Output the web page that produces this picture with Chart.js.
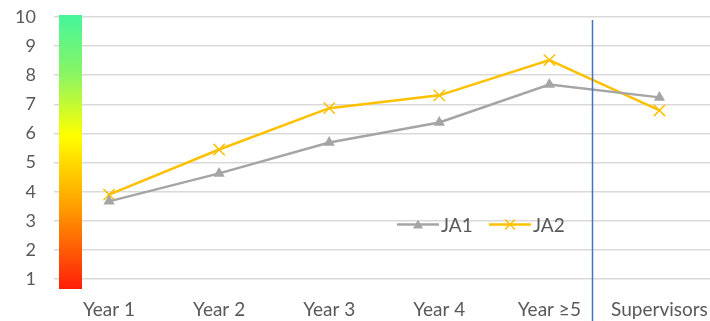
<!DOCTYPE html>
<html>
<head>
<meta charset="utf-8">
<script src="https://cdn.jsdelivr.net/npm/chart.js@4"></script>
<style>
  html, body { margin: 0; padding: 0; background: #fff; overflow: hidden; }
  #chart { display: block; }
</style>
</head>
<body>
<canvas id="chart" width="724" height="321"></canvas>
<script>
// Chart data
const categories = ['Year 1', 'Year 2', 'Year 3', 'Year 4', 'Year \u22655', 'Supervisors'];
const ja1Values = [3.67, 4.63, 5.69, 6.38, 7.68, 7.24];
const ja2Values = [3.9, 5.45, 6.87, 7.31, 8.52, 6.79];
const yTicks = [1, 2, 3, 4, 5, 6, 7, 8, 9, 10];

const FONT = 'Lato, "Open Sans", sans-serif';
const TEXT = '#595959';
const GRAY = '#A5A5A5';
const GOLD = '#FFC000';

// Colour scale bar on the left of the plot (score 10 = green, bottom = red)
const scoreBar = {
  id: 'scoreBar',
  beforeDatasetsDraw(chart) {
    const { ctx, chartArea, scales: { y } } = chart;
    const top = y.getPixelForValue(10) - 2;
    const bottom = chartArea.bottom;
    const left = chartArea.left + 5;
    const width = 23;
    const grad = ctx.createLinearGradient(0, top, 0, bottom);
    grad.addColorStop(0, '#45F59C');
    grad.addColorStop(0.22, '#8CF562');
    grad.addColorStop(0.44, '#FFFF00');
    grad.addColorStop(0.7, '#FF9E00');
    grad.addColorStop(1, '#FF1E0A');
    ctx.save();
    ctx.fillStyle = grad;
    ctx.fillRect(left, top, width, bottom - top);
    ctx.restore();
  }
};

// Blue divider between the trainee years and the supervisors
const divider = {
  id: 'divider',
  afterDatasetsDraw(chart) {
    const { ctx, scales: { x, y } } = chart;
    const a = x.getPixelForValue(4);
    const b = x.getPixelForValue(5);
    const px = Math.round(a + (b - a) * 0.39) + 0.5;
    ctx.save();
    ctx.strokeStyle = '#4472C4';
    ctx.lineWidth = 1.5;
    ctx.beginPath();
    ctx.moveTo(px, y.getPixelForValue(10) + 3);
    ctx.lineTo(px, chart.height);
    ctx.stroke();
    ctx.restore();
  }
};

// Legend floating inside the plot, like the Excel original
const innerLegend = {
  id: 'innerLegend',
  afterDatasetsDraw(chart) {
    const { ctx, chartArea, scales: { y } } = chart;
    const cy = Math.round(y.getPixelForValue(2.88)) + 0.5;
    let cx = chartArea.left + 343;
    ctx.save();
    ctx.font = '19px ' + FONT;
    ctx.textBaseline = 'middle';
    chart.data.datasets.forEach((ds) => {
      ctx.strokeStyle = ds.borderColor;
      ctx.lineWidth = 2.5;
      ctx.beginPath();
      ctx.moveTo(cx, cy);
      ctx.lineTo(cx + 42, cy);
      ctx.stroke();
      const mx = cx + 21;
      if (ds.pointStyle === 'triangle') {
        ctx.fillStyle = ds.borderColor;
        ctx.beginPath();
        ctx.moveTo(mx, cy - 5);
        ctx.lineTo(mx + 5, cy + 4);
        ctx.lineTo(mx - 5, cy + 4);
        ctx.closePath();
        ctx.fill();
      } else {
        ctx.lineWidth = 1.5;
        ctx.beginPath();
        ctx.moveTo(mx - 5, cy - 5);
        ctx.lineTo(mx + 5, cy + 5);
        ctx.moveTo(mx + 5, cy - 5);
        ctx.lineTo(mx - 5, cy + 5);
        ctx.stroke();
      }
      ctx.fillStyle = TEXT;
      ctx.fillText(ds.label, cx + 44, cy + 1);
      cx += 92;
    });
    ctx.restore();
  }
};

new Chart(document.getElementById('chart'), {
  type: 'line',
  data: {
    labels: categories,
    datasets: [
      {
        label: 'JA1',
        data: ja1Values,
        borderColor: GRAY,
        backgroundColor: GRAY,
        borderWidth: 2.5,
        pointStyle: 'triangle',
        pointRadius: 6.5,
        pointBorderWidth: 0,
        tension: 0
      },
      {
        label: 'JA2',
        data: ja2Values,
        borderColor: GOLD,
        backgroundColor: GOLD,
        borderWidth: 2.5,
        pointStyle: 'cross',
        pointRotation: 45,
        pointRadius: 8,
        pointBorderWidth: 1.5,
        tension: 0
      }
    ]
  },
  options: {
    responsive: false,
    animation: false,
    devicePixelRatio: 1,
    layout: { padding: { top: 17, right: 1, left: 0, bottom: 0 } },
    plugins: {
      legend: { display: false },
      tooltip: { enabled: false }
    },
    scales: {
      x: {
        offset: true,
        grid: { display: false, drawTicks: false },
        border: { display: false },
        ticks: {
          color: TEXT,
          font: { family: FONT, size: 19 },
          padding: 9,
          maxRotation: 0,
          autoSkip: false
        },
        afterFit(scale) {
          scale.height = 32;
          scale.paddingLeft = 0;
          scale.paddingRight = 0;
        }
      },
      y: {
        min: 0.66,
        max: 10,
        afterBuildTicks(scale) {
          scale.ticks = yTicks.map(v => ({ value: v }));
        },
        grid: { color: '#D9D9D9', lineWidth: 1.5, drawTicks: false },
        border: { display: false },
        ticks: {
          color: TEXT,
          font: { family: FONT, size: 18 },
          padding: 18
        },
        afterFit(scale) {
          scale.width = 54;
          scale.paddingTop = 0;
          scale.paddingBottom = 0;
        }
      }
    }
  },
  plugins: [scoreBar, divider, innerLegend]
});
</script>
</body>
</html>
